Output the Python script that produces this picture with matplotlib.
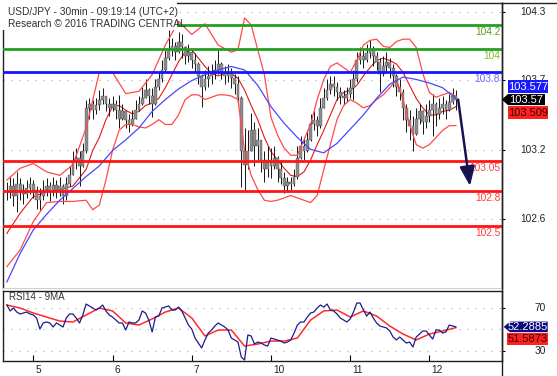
import numpy as np
import matplotlib
matplotlib.use("Agg")
import matplotlib.pyplot as plt
from matplotlib.patches import Polygon, Rectangle
from matplotlib.lines import Line2D
import matplotlib.transforms as mtransforms

plt.rcParams['font.family'] = ['Liberation Sans', 'DejaVu Sans']

# ---------------- data (USD/JPY, hourly-sampled bars) ----------------
close = [102.79,102.84,102.76,102.86,102.81,102.77,102.82,102.86,102.81,102.72,
         102.76,102.81,102.84,102.79,102.85,102.81,102.84,102.76,102.86,102.93,
         103.04,103.08,103.01,103.14,103.50,103.53,103.48,103.52,103.57,103.60,
         103.53,103.50,103.53,103.48,103.41,103.47,103.40,103.36,103.41,103.48,
         103.53,103.58,103.65,103.60,103.53,103.68,103.74,103.82,103.92,103.99,
         104.02,103.97,104.06,104.01,103.94,103.97,103.90,103.87,103.77,103.68,
         103.74,103.77,103.79,103.82,103.87,103.80,103.77,103.79,103.75,103.70,
         103.58,103.14,103.02,103.14,103.31,103.18,103.23,103.06,102.98,103.06,
         103.01,103.08,102.98,102.91,102.84,102.87,102.86,102.92,103.08,103.18,
         103.14,103.23,103.36,103.40,103.35,103.50,103.58,103.65,103.70,103.68,
         103.63,103.60,103.58,103.62,103.67,103.74,103.90,103.94,103.90,103.96,
         103.99,103.94,103.89,103.79,103.85,103.89,103.84,103.77,103.68,103.63,
         103.50,103.40,103.35,103.28,103.41,103.47,103.38,103.43,103.48,103.53,
         103.45,103.50,103.53,103.48,103.55,103.60,103.57]
high = [102.87,102.92,102.91,102.96,102.91,102.86,102.89,102.92,102.89,102.84,
        102.82,102.89,102.91,102.87,102.92,102.89,102.92,102.86,102.92,103.01,
        103.14,103.16,103.14,103.20,103.57,103.58,103.57,103.58,103.65,103.67,
        103.60,103.58,103.60,103.57,103.61,103.53,103.48,103.45,103.48,103.57,
        103.60,103.68,103.74,103.67,103.67,103.74,103.80,103.90,103.99,104.16,
        104.09,104.06,104.14,104.12,104.02,104.04,103.99,103.96,103.89,103.79,
        103.82,103.85,103.87,103.90,103.99,103.89,103.85,103.87,103.84,103.79,
        103.77,103.60,103.33,103.31,103.46,103.38,103.33,103.23,103.14,103.18,
        103.16,103.18,103.09,103.06,102.96,102.92,102.92,102.98,103.18,103.26,
        103.25,103.31,103.45,103.47,103.43,103.58,103.67,103.74,103.77,103.77,
        103.72,103.68,103.65,103.68,103.74,103.82,103.97,104.01,103.99,104.04,
        104.07,104.02,103.97,103.92,103.94,103.97,103.92,103.87,103.79,103.74,
        103.66,103.53,103.48,103.43,103.50,103.53,103.48,103.53,103.57,103.62,
        103.55,103.58,103.60,103.57,103.62,103.67,103.65]
low = [102.72,102.74,102.67,102.62,102.72,102.69,102.74,102.77,102.74,102.65,
       102.64,102.72,102.76,102.71,102.76,102.74,102.76,102.69,102.72,102.84,
       102.93,102.98,102.84,103.00,103.12,103.41,103.41,103.45,103.48,103.53,
       103.47,103.43,103.47,103.41,103.33,103.40,103.33,103.30,103.35,103.41,
       103.47,103.52,103.58,103.53,103.42,103.52,103.65,103.72,103.80,103.90,
       103.94,103.90,103.96,103.92,103.87,103.89,103.84,103.80,103.70,103.51,
       103.65,103.68,103.70,103.74,103.79,103.74,103.70,103.72,103.67,103.62,
       103.53,102.83,102.81,102.98,103.14,103.01,103.06,102.96,102.87,102.92,
       102.91,102.98,102.87,102.86,102.78,102.79,102.81,102.84,102.90,103.07,
       103.06,103.13,103.22,103.31,103.26,103.33,103.50,103.57,103.62,103.60,
       103.57,103.53,103.52,103.55,103.58,103.57,103.72,103.87,103.84,103.89,
       103.92,103.85,103.82,103.63,103.77,103.80,103.75,103.68,103.60,103.57,
       103.40,103.30,103.23,103.14,103.27,103.36,103.28,103.33,103.38,103.26,
       103.35,103.41,103.45,103.41,103.47,103.53,103.48]

upper_t = [0,4,8,12,16,20,24,28,32,36,40,44,48,52,56,60,64,68,
           70,72,74,76,78,80,82,84,86,88,90,92,94,96,98,100,102,104,106,108,
           110,112,114,116,118,120,122,124,126,128,130,132,134,136]
upper = [102.89,102.99,103.03,102.96,102.93,103.02,103.33,103.80,103.80,103.62,
         103.64,103.78,104.03,104.23,104.12,104.21,104.03,103.97,
         103.99,104.26,104.20,103.99,103.78,103.42,103.27,103.16,103.10,103.10,
         103.23,103.36,103.57,103.74,103.85,103.88,103.84,103.80,103.90,104.03,
         104.07,104.08,104.02,104.01,104.06,104.08,104.08,104.01,103.79,103.63,
         103.59,103.61,103.63,103.60]
band_t = [0,4,8,12,16,20,24] + list(range(26, 137, 2))
middle = [102.44,102.61,102.75,102.79,102.81,102.84,102.98,103.14,103.25,103.40,
          103.51,103.52,103.48,103.45,103.47,103.52,103.54,103.58,103.67,103.78,
          103.89,103.97,103.99,103.92,103.85,103.79,103.77,103.79,103.79,103.75,
          103.65,103.52,103.40,103.25,103.13,103.06,102.99,102.93,102.92,102.96,
          103.06,103.19,103.31,103.44,103.57,103.63,103.65,103.69,103.77,103.84,
          103.90,103.92,103.90,103.87,103.80,103.69,103.58,103.50,103.44,103.44,
          103.47,103.48,103.51]
lower = [102.16,102.30,102.54,102.70,102.71,102.71,102.72,102.64,102.68,102.89,
         103.14,103.31,103.36,103.36,103.34,103.33,103.36,103.40,103.36,103.36,
         103.44,103.57,103.61,103.61,103.57,103.59,103.61,103.61,103.60,103.57,
         103.14,102.93,102.81,102.72,102.71,102.72,102.74,102.76,102.74,102.72,
         102.70,102.76,102.98,103.19,103.40,103.52,103.57,103.54,103.50,103.52,
         103.57,103.61,103.67,103.74,103.57,103.36,103.19,103.16,103.19,103.25,
         103.31,103.35,103.35]
ma_t = list(range(0, 137, 4))
ma_long = [102.03,102.27,102.47,102.60,102.72,102.82,102.92,103.01,103.14,103.23,
           103.33,103.47,103.57,103.66,103.73,103.78,103.82,103.85,103.82,103.69,
           103.51,103.37,103.25,103.15,103.12,103.20,103.32,103.44,103.58,103.70,
           103.76,103.74,103.71,103.67,103.58]

levels = [104.2, 104.0, 103.8, 103.05, 102.8, 102.5]
level_labels = ['104.2', '104', '103.8', '103.05', '102.8', '102.5']
forecast_t = [136.7, 140.3]
forecast_v = [103.57, 102.84]

price_ticks = [104.312, 103.735, 103.144, 102.559]
price_tick_labels = ['104.3', '103.7', '103.2', '102.6']
last_tags = ['103.577', '103.57', '103.509']

rsi = [72.5,67.0,69.7,66.0,64.2,65.1,66.0,64.2,63.3,60.5,
       50.3,55.9,56.8,55.9,52.2,55.9,54.0,52.2,60.5,64.2,
       64.2,60.5,55.9,63.3,73.4,71.6,69.7,67.9,69.7,72.5,
       67.0,63.3,61.4,58.6,55.9,55.9,49.4,56.8,55.9,55.9,
       58.6,67.0,65.1,58.6,47.6,61.4,62.3,69.7,70.6,71.6,
       67.9,67.9,70.6,67.0,60.5,54.0,50.3,42.0,37.4,32.8,
       40.2,46.6,49.4,53.1,55.9,54.0,52.2,49.4,42.0,40.2,
       38.3,24.5,21.7,44.8,43.9,36.5,38.3,37.4,35.6,34.6,
       42.0,41.1,40.2,39.2,37.4,38.3,40.2,46.6,54.0,56.8,
       56.8,61.4,65.1,66.0,69.7,72.5,70.6,73.4,67.9,67.0,
       64.2,60.5,58.6,56.8,59.6,66.0,74.3,74.3,67.9,62.3,
       66.0,60.5,55.9,53.1,52.2,51.3,48.5,42.9,40.2,42.9,
       40.2,37.4,38.3,33.7,42.9,45.7,48.5,48.5,44.8,41.1,
       49.4,49.4,46.6,47.6,54.0,53.1,52.3]
rsi_ma = [72.5,69.7,65.1,61.4,57.7,56.8,63.3,69.7,67.0,55.9,
          54.0,59.6,66.0,69.7,60.5,43.9,49.4,49.4,34.6,36.5,
          39.2,39.2,42.0,58.6,67.0,67.9,61.4,67.0,62.3,53.1,
          45.7,40.2,45.7,48.5,51.6]
rsi_ticks = [70, 30]
rsi_tick_labels = ['70', '30']
rsi_grid = [70, 50, 30]
rsi_tags = ['52.2885', '51.5873']

day_t = [8, 32, 56, 80, 104, 128]
day_labels = ['5', '6', '7', '10', '11', '12']

title1 = 'USD/JPY - 30min - 09:19:14 (UTC+2)'
title2 = 'Research \u00a9 2016 TRADING CENTRAL'

# ---------------- figure ----------------
W, H = 557, 376
fig = plt.figure(figsize=(W / 100, H / 100), dpi=100)
fig.patch.set_facecolor('white')
PX = mtransforms.Affine2D().scale(1, -1).translate(0, H)  # pixel coords, origin top-left


def rect(x0, y0, x1, y1):
    return [x0 / W, 1 - y1 / H, (x1 - x0) / W, (y1 - y0) / H]


ax = fig.add_axes(rect(3, 2.7, 501.7, 288))
ax2 = fig.add_axes(rect(3, 290.7, 501.7, 361))
XL = (-1.18, 149.9)

# ----- main panel -----
t = np.arange(len(close))
c = np.array(close)
o = np.r_[c[0], c[:-1]]
hi = np.maximum(np.array(high), np.maximum(o, c))
lo = np.minimum(np.array(low), np.minimum(o, c))
ax.set_xlim(*XL)
ax.set_ylim(101.979, 104.388)

for v in price_ticks:
    ax.axhline(v, color='#b8b8b8', lw=0.8, ls=(0, (1.2, 6)), zorder=0)

ax.plot(band_t, middle, color='#e01818', lw=0.8, zorder=1)
ax.vlines(t, lo, hi, colors='#151515', lw=0.7, zorder=3)
ax.bar(t, np.maximum(np.abs(c - o), 0.008), bottom=np.minimum(o, c), width=0.85,
       color='#8e8e8e', edgecolor='#404040', linewidth=0.25, zorder=4)
ax.plot(upper_t, upper, color='#ff4a4a', lw=0.9, zorder=5)
ax.plot(band_t, lower, color='#ff4a4a', lw=0.9, zorder=5)
ax.plot(ma_t, ma_long, color='#4848ff', lw=0.9, zorder=5)

line_cols = ['#22a022', '#22a022', '#1414ff', '#ff1414', '#ff1414', '#ff1414']
text_cols = ['#5c9c22', '#86bb22', '#6a6aff', '#ff3c3c', '#ff3c3c', '#ff3c3c']
lab_tr = mtransforms.offset_copy(ax.get_yaxis_transform(), fig=fig, x=-1.5, y=-2, units='dots')
for v, lb, lc, tc in zip(levels, level_labels, line_cols, text_cols):
    ax.axhline(v, color=lc, lw=2.0, zorder=6)
    ax.text(1.0, v, lb, transform=lab_tr, ha='right', va='top', fontsize=7.3, color=tc, zorder=7)

ax.annotate('', xy=(forecast_t[1], forecast_v[1]), xytext=(forecast_t[0], forecast_v[0]),
            arrowprops=dict(arrowstyle='-|>,head_length=0.9,head_width=0.35', color='#141452',
                            lw=1.8, mutation_scale=13, shrinkA=0, shrinkB=0), zorder=8)

ax.set_xticks([])
ax.tick_params(axis='y', which='both', left=False, labelleft=False, right=True,
               labelright=False, direction='out', length=2.5, width=0.8)
ax.set_yticks(price_ticks)
ytr = ax.get_yaxis_transform()
for v, lb in zip(price_ticks, price_tick_labels):
    ax.text(1 + (546 - 501.7) / 498.7, v, lb, transform=ytr, ha='right', va='center',
            fontsize=7.3, color='#222222', clip_on=False, zorder=2)
for s in ['left', 'top', 'right']:
    ax.spines[s].set_color('#202020')
    ax.spines[s].set_linewidth(1.0)
ax.spines['bottom'].set_color('#cfcfcf')

# ----- RSI panel -----
ax2.set_xlim(*XL)
ax2.set_ylim(20.8, 85.7)
for v in rsi_grid:
    ax2.axhline(v, color='#b8b8b8', lw=0.8, ls=(0, (1.2, 6)), zorder=0)
ax2.plot(ma_t, rsi_ma, color='#ff2a2a', lw=1.1, zorder=2)
ax2.plot(t, rsi, color='#1c1c8a', lw=0.9, zorder=3)
ax2.set_yticks(rsi_ticks)
ax2.tick_params(axis='y', left=False, labelleft=False, right=True, labelright=False,
                direction='out', length=2.5, width=0.8)
ytr2 = ax2.get_yaxis_transform()
for v, lb in zip(rsi_ticks, rsi_tick_labels):
    ax2.text(1 + (546 - 501.7) / 498.7, v, lb, transform=ytr2, ha='right', va='center',
             fontsize=7.3, color='#222222', clip_on=False)
ax2.set_xticks(day_t)
ax2.tick_params(axis='x', direction='in', length=4, width=0.8, labelbottom=False)
xtr = mtransforms.offset_copy(ax2.get_xaxis_transform(), fig=fig, x=2, y=-4, units='dots')
for d, lb in zip(day_t, day_labels):
    ax2.text(d, 0, lb, transform=xtr, ha='left', va='top', fontsize=7.3, color='#222222',
             clip_on=False)
for s in ax2.spines.values():
    s.set_color('#202020')
    s.set_linewidth(1.0)
ax2.text(0.012, 0.91, 'RSI14 - 9MA', transform=ax2.transAxes, fontsize=7, color='#333333',
         va='center', ha='left')

# ----- frame extras -----
fig.add_artist(Line2D([501.7, 501.7], [2.7, 376], transform=PX, color='#202020', lw=1.0))
fig.add_artist(Line2D([501.7, 557], [2.7, 2.7], transform=PX, color='#202020', lw=1.0))
fig.add_artist(Rectangle((0, 0), 177, 29.5, transform=PX, facecolor='white', edgecolor='none',
                         zorder=10))
fig.text(8 / W, 1 - 12 / H, title1, fontsize=7.3, color='#303030', va='center', zorder=11)
fig.text(8 / W, 1 - 24 / H, title2, fontsize=7.3, color='#303030', va='center', zorder=11)


def ypx(a, v):
    return H - a.transData.transform((0, v))[1]


# price tags
yb = ypx(ax, close[-1])
blk = Polygon([(501.7, yb), (508, yb - 5.5), (545, yb - 5.5), (545, yb + 5.5), (508, yb + 5.5)],
              closed=True, transform=PX, facecolor='black', edgecolor='none', zorder=12)
fig.add_artist(blk)
fig.text(526.5 / W, 1 - yb / H, last_tags[1], fontsize=8, color='white', ha='center', va='center',
         zorder=13)
fig.add_artist(Rectangle((507.7, yb - 6.5 - 12.6), 40, 12.6, transform=PX, facecolor='#1a1aff',
                         edgecolor='none', zorder=12))
fig.text(527.7 / W, 1 - (yb - 6.5 - 6.3) / H, last_tags[0], fontsize=8, color='white',
         ha='center', va='center', zorder=13)
fig.add_artist(Rectangle((507.7, yb + 6.5), 40, 13, transform=PX, facecolor='#ff2020',
                         edgecolor='none', zorder=12))
fig.text(527.7 / W, 1 - (yb + 6.5 + 6.5) / H, last_tags[2], fontsize=8, color='#3a0000',
         ha='center', va='center', zorder=13)

# rsi tags
yr = ypx(ax2, rsi[-1])
fig.add_artist(Polygon([(503.7, yr), (510, yr - 5.3), (547.7, yr - 5.3), (547.7, yr + 5.3),
                        (510, yr + 5.3)], closed=True, transform=PX, facecolor='#0a0a80',
                       edgecolor='none', zorder=12))
fig.text(528 / W, 1 - yr / H, rsi_tags[0], fontsize=8, color='white', ha='center', va='center',
         zorder=13)
fig.add_artist(Rectangle((507, yr + 6.3), 41, 12, transform=PX, facecolor='#ff2020',
                         edgecolor='none', zorder=12))
fig.text(527.5 / W, 1 - (yr + 12.3) / H, rsi_tags[1], fontsize=8, color='#3a0000', ha='center',
         va='center', zorder=13)

fig.savefig('out.png', dpi=100, facecolor='white')
